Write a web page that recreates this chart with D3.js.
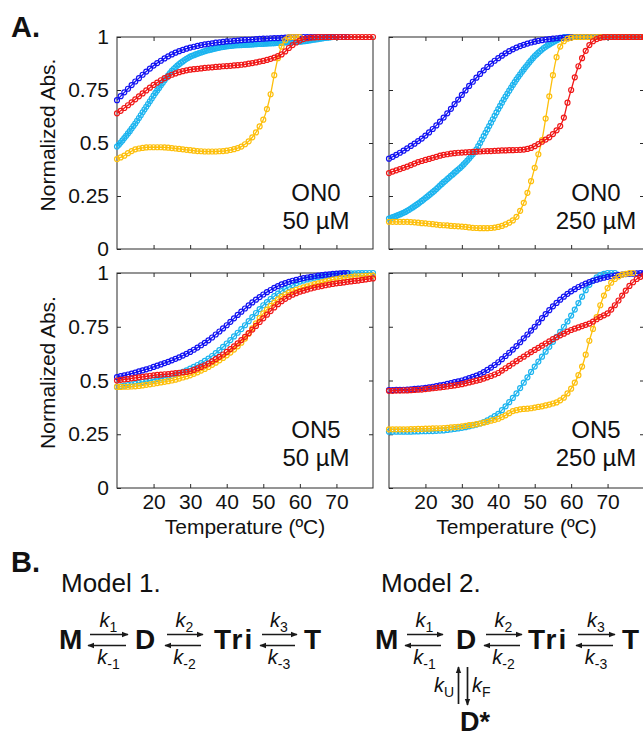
<!DOCTYPE html>
<html><head><meta charset="utf-8">
<script src="https://cdn.jsdelivr.net/npm/d3@7"></script>
<style>
body{margin:0;background:#fff}
svg{display:block}
text{font-family:"Liberation Sans",Arial,sans-serif;fill:#111}
</style>
</head><body>
<svg id="c" width="643" height="738"></svg>
<script>
// ---------------- DATA ----------------
const tempStart = 10;          // first temperature (°C)
const xTicks = [20, 30, 40, 50, 60, 70];
const yTicks = [0, 0.25, 0.5, 0.75, 1];
const yTickLabels = ["0", "0.25", "0.5", "0.75", "1"];
const seriesColors = ["#1cb4ef", "#1212f2", "#fdbf0c", "#f01818"]; // light blue, blue, orange, red

const panelNames = ["ON0", "ON0", "ON5", "ON5"];
const panelConcs = ["50 µM", "250 µM", "50 µM", "250 µM"];
// temperature step (°C) of each series, per panel
const seriesSteps = [[0.5, 1, 1, 1], [0.5, 1, 1, 1], [1, 1, 1, 1], [1, 1, 1, 1]];

// ON0 50 µM
const on0_50_light = [.483,.492,.502,.512,.523,.534,.545,.556,.568,.580,.592,.605,.618,.631,.645,.658,.671,.684,.697,.710,.723,.736,.748,.760,.772,.784,.796,.808,.819,.830,.840,.849,.857,.865,.872,.879,.885,.891,.897,.902,.907,.911,.914,.918,.921,.924,.927,.930,.933,.936,.938,.940,.942,.944,.946,.948,.950,.952,.953,.955,.956,.957,.958,.959,.960,.961,.961,.962,.962,.963,.963,.964,.964,.965,.965,.966,.966,.967,.967,.968,.968,.969,.969,.970,.970,.971,.971,.972,.972,.973,.973,.974,.974,.975,.975,.976,.976,.977,.977,.978,.978,.979,.980,.981,.982,.984,.985,.987,.988,.989,.990,.992,.993,.995,.996,.997,.998,.999,1];
const on0_50_blue = [.702,.721,.739,.756,.773,.790,.806,.822,.837,.851,.865,.877,.888,.899,.909,.918,.926,.933,.939,.945,.950,.954,.958,.962,.965,.968,.970,.973,.975,.977,.979,.980,.982,.983,.985,.986,.987,.988,.990,.991,.992,.993,.994,.995,.995,.996,.997,.998,.999,.999,1,1,1,1,1,1,1,1,1,1,1,1,1,1];
const on0_50_orange = [.424,.432,.440,.452,.462,.470,.474,.477,.479,.480,.480,.480,.480,.479,.478,.476,.474,.472,.470,.468,.466,.464,.462,.461,.460,.460,.460,.460,.461,.462,.464,.467,.471,.476,.483,.494,.508,.527,.550,.578,.610,.660,.730,.820,.900,.955,.985,.998,1,1,1];
const on0_50_red = [.640,.652,.665,.678,.692,.706,.720,.734,.748,.761,.774,.785,.796,.806,.814,.822,.828,.834,.839,.843,.846,.848,.850,.852,.854,.856,.857,.859,.860,.862,.863,.864,.866,.867,.869,.871,.874,.877,.880,.884,.887,.892,.897,.903,.910,.918,.932,.948,.962,.974,.983,.990,.994,.997,.998,.999,1,1,1,1,1,1,1,1,1,1,1,1,1,1,1];

// ON0 250 µM
const on0_250_light = [.143,.146,.150,.153,.156,.160,.163,.167,.171,.175,.180,.185,.191,.196,.202,.208,.214,.220,.227,.233,.240,.247,.254,.261,.268,.275,.283,.291,.299,.307,.315,.322,.330,.337,.345,.352,.360,.367,.375,.382,.390,.399,.408,.417,.427,.437,.447,.458,.470,.485,.500,.516,.532,.548,.564,.580,.596,.612,.628,.644,.660,.675,.690,.705,.719,.733,.747,.761,.774,.787,.800,.812,.824,.836,.847,.858,.869,.880,.890,.900,.910,.918,.926,.934,.941,.948,.954,.960,.965,.970,.975,.980,.985,.989,.993,.996,.998,.999,1,1,1,1,1,1,1,1,1,1,1,1,1,1,1,1,1,1,1,1,1,1,1,1,1,1,1,1,1,1,1,1,1,1,1,1,1,1,1,1,1,1,1];
const on0_250_blue = [.426,.435,.444,.454,.464,.475,.486,.497,.509,.521,.535,.550,.566,.583,.601,.620,.640,.661,.683,.705,.727,.748,.769,.789,.808,.826,.843,.859,.874,.888,.900,.912,.923,.933,.942,.950,.957,.963,.969,.974,.978,.982,.985,.988,.990,.992,.994,.996,.997,.998,.999,1,1,1,1,1,1,1,1,1,1,1,1,1,1,1,1,1,1,1,1];
const on0_250_orange = [.128,.128,.128,.128,.128,.128,.127,.126,.124,.122,.121,.119,.117,.115,.113,.112,.111,.109,.108,.107,.106,.104,.102,.100,.099,.098,.098,.098,.099,.101,.104,.109,.116,.124,.135,.152,.180,.218,.265,.320,.383,.447,.514,.615,.720,.820,.905,.955,.980,.992,.997,1,1,1,1,1,1,1,1,1,1,1,1,1,1,1,1,1,1,1,1];
const on0_250_red = [.358,.365,.371,.377,.383,.389,.396,.403,.410,.415,.420,.425,.430,.435,.440,.444,.447,.450,.452,.454,.455,.456,.457,.458,.459,.460,.461,.462,.462,.463,.464,.465,.465,.466,.466,.467,.468,.469,.472,.477,.485,.495,.506,.516,.527,.542,.560,.580,.620,.690,.750,.810,.862,.900,.935,.962,.980,.990,.996,.999,1,1,1,1,1,1,1,1,1,1,1];

// ON5 50 µM
const on5_50_light = [.470,.473,.476,.479,.482,.485,.489,.493,.497,.500,.504,.507,.510,.514,.517,.521,.527,.533,.540,.547,.555,.563,.572,.581,.591,.602,.614,.627,.641,.656,.672,.688,.705,.722,.739,.757,.776,.795,.814,.832,.850,.865,.879,.892,.904,.916,.926,.935,.944,.952,.960,.965,.970,.974,.978,.981,.984,.987,.990,.992,.994,.995,.996,.997,.998,.998,.999,.999,1,1,1];
const on5_50_blue = [.516,.520,.524,.528,.532,.537,.542,.547,.552,.557,.563,.569,.575,.581,.587,.594,.601,.608,.616,.624,.633,.643,.653,.664,.675,.687,.700,.714,.728,.742,.757,.773,.789,.805,.820,.835,.849,.863,.876,.888,.900,.911,.921,.931,.939,.947,.953,.959,.964,.968,.972,.976,.979,.982,.985,.988,.990,.992,.994,.996,.997,.998,.999,1];
const on5_50_orange = [.470,.470,.471,.471,.472,.473,.475,.477,.480,.482,.485,.488,.491,.494,.497,.500,.504,.509,.514,.519,.524,.531,.538,.546,.554,.563,.573,.583,.594,.605,.617,.630,.644,.659,.676,.695,.718,.742,.766,.790,.812,.830,.847,.862,.877,.890,.900,.909,.916,.922,.928,.933,.938,.943,.948,.952,.956,.961,.965,.969,.972,.975,.977,.980,.982,.984,.985,.986,.987,.988,.988];
const on5_50_red = [.500,.503,.505,.507,.510,.512,.515,.517,.519,.522,.524,.526,.527,.529,.530,.532,.534,.536,.538,.540,.543,.549,.556,.563,.571,.579,.589,.599,.610,.621,.633,.646,.659,.673,.688,.703,.720,.737,.754,.772,.789,.806,.823,.840,.855,.869,.880,.890,.899,.906,.913,.918,.923,.928,.932,.936,.939,.943,.946,.949,.952,.954,.956,.959,.961,.963,.965,.968,.970,.973,.975];

// ON5 250 µM
const on5_250_light = [.262,.262,.262,.262,.262,.262,.262,.263,.263,.264,.264,.265,.265,.266,.267,.268,.270,.272,.275,.277,.280,.283,.287,.291,.295,.300,.307,.315,.324,.334,.345,.362,.380,.399,.419,.440,.465,.490,.515,.540,.565,.588,.611,.634,.657,.680,.703,.726,.750,.775,.802,.830,.860,.890,.920,.945,.965,.980,.990,.996,1,1,1];
const on5_250_blue = [.455,.455,.456,.456,.457,.458,.459,.461,.462,.464,.466,.468,.471,.474,.477,.480,.484,.488,.492,.496,.500,.505,.511,.517,.523,.530,.539,.549,.560,.572,.585,.599,.614,.629,.644,.660,.678,.696,.714,.732,.750,.770,.790,.809,.827,.845,.861,.876,.890,.903,.915,.925,.935,.943,.951,.958,.964,.969,.974,.978,.982,.985,.988,.991,.993,.995,.996,.997,.998,.999,1];
const on5_250_orange = [.273,.273,.273,.273,.273,.273,.274,.274,.275,.275,.276,.276,.277,.278,.278,.279,.280,.282,.283,.285,.287,.289,.292,.294,.297,.300,.304,.308,.313,.317,.322,.330,.338,.348,.358,.362,.366,.368,.369,.371,.374,.377,.380,.384,.388,.393,.398,.408,.420,.440,.462,.490,.525,.565,.620,.685,.740,.795,.850,.895,.930,.955,.972,.984,.992,.996,.999,1];
const on5_250_red = [.452,.452,.453,.453,.454,.454,.455,.456,.457,.458,.460,.462,.464,.466,.468,.470,.472,.475,.477,.480,.483,.487,.491,.495,.499,.503,.509,.515,.521,.528,.535,.546,.557,.568,.579,.590,.601,.611,.622,.632,.642,.652,.662,.672,.682,.692,.701,.710,.718,.727,.735,.741,.747,.753,.759,.765,.774,.785,.795,.803,.812,.830,.850,.872,.895,.918,.940,.957,.972,.982,.990];

const panelSeries = [
  [on0_50_light, on0_50_blue, on0_50_orange, on0_50_red],
  [on0_250_light, on0_250_blue, on0_250_orange, on0_250_red],
  [on5_50_light, on5_50_blue, on5_50_orange, on5_50_red],
  [on5_250_light, on5_250_blue, on5_250_orange, on5_250_red]
];

// ---------------- LAYOUT ----------------
const svg = d3.select("#c");
const colX = [[117, 373], [389, 644]];
const rowY = [[249, 37], [488, 273]];
const ink = "#1a1a1a";
const FONT = '"Liberation Sans",Arial,sans-serif';

panelSeries.forEach((series, pi) => {
  const col = pi % 2, row = Math.floor(pi / 2);
  const x = d3.scaleLinear().domain([10, 80]).range(colX[col]);
  const y = d3.scaleLinear().domain([0, 1]).range(rowY[row]);
  const g = svg.append("g");

  g.append("rect").attr("x", x(10)).attr("y", y(1))
    .attr("width", x(80) - x(10)).attr("height", y(0) - y(1))
    .attr("fill", "none").attr("stroke", "#2a2a2a").attr("stroke-width", 1);

  const styleAxis = sel => {
    sel.select(".domain").remove();
    sel.selectAll(".tick line").attr("stroke", "#2a2a2a");
    sel.selectAll("text").attr("font-size", 21).attr("font-family", FONT).attr("fill", ink);
  };

  g.append("g").attr("transform", `translate(${x(10)},0)`)
    .call(d3.axisLeft(y).tickValues(yTicks).tickSize(-4).tickSizeOuter(0).tickPadding(8)
      .tickFormat((d, i) => col === 0 ? yTickLabels[i] : ""))
    .call(styleAxis);
  g.append("g").attr("transform", `translate(${x(80)},0)`)
    .call(d3.axisRight(y).tickValues(yTicks.slice(1, 4)).tickSize(-4).tickSizeOuter(0).tickFormat(""))
    .call(styleAxis);
  g.append("g").attr("transform", `translate(0,${y(0)})`)
    .call(d3.axisBottom(x).tickValues(xTicks).tickSize(-4).tickSizeOuter(0).tickPadding(6)
      .tickFormat(d => row === 1 ? d : ""))
    .call(styleAxis);
  g.append("g").attr("transform", `translate(0,${y(1)})`)
    .call(d3.axisTop(x).tickValues(xTicks).tickSize(-4).tickSizeOuter(0).tickFormat(""))
    .call(styleAxis);

  const line = d3.line().x(d => x(d.t)).y(d => y(d.v)).curve(d3.curveMonotoneX);
  series.forEach((vals, si) => {
    const step = seriesSteps[pi][si];
    const pts = vals.map((v, i) => ({t: tempStart + i * step, v}));
    const c = seriesColors[si];
    g.append("g").selectAll("circle").data(pts).join("circle")
      .attr("cx", d => x(d.t)).attr("cy", d => y(d.v)).attr("r", 2.5)
      .attr("fill", "none").attr("stroke", c).attr("stroke-width", 1.2);
    g.append("path").datum(pts).attr("d", line)
      .attr("fill", "none").attr("stroke", c).attr("stroke-width", 1.3);
  });

  const cx = col === 0 ? 316 : 596;
  const b1 = row === 0 ? 201 : 438;
  g.append("text").attr("x", cx).attr("y", b1).attr("text-anchor", "middle").attr("font-size", 24).text(panelNames[pi]);
  g.append("text").attr("x", cx).attr("y", b1 + 28).attr("text-anchor", "middle").attr("font-size", 24).text(panelConcs[pi]);

  if (col === 0) {
    const cy = (y(0) + y(1)) / 2 - 8;
    g.append("text").attr("transform", `translate(55,${cy}) rotate(-90)`)
      .attr("text-anchor", "middle").attr("font-size", 21).text("Normalized Abs.");
  }
  if (row === 1) {
    g.append("text").attr("x", (x(10) + x(80)) / 2).attr("y", 534)
      .attr("text-anchor", "middle").attr("font-size", 21).text("Temperature (ºC)");
  }
});

svg.append("text").attr("x", 11).attr("y", 37).attr("font-size", 29).attr("font-weight", "bold").text("A.");
svg.append("text").attr("x", 11).attr("y", 572).attr("font-size", 29).attr("font-weight", "bold").text("B.");

// ---------------- SCHEMES ----------------
const defs = svg.append("defs");
defs.append("marker").attr("id", "ah").attr("viewBox", "0 0 10 10").attr("refX", 9).attr("refY", 5)
  .attr("markerWidth", 7).attr("markerHeight", 7).attr("orient", "auto-start-reverse").attr("markerUnits", "userSpaceOnUse")
  .append("path").attr("d", "M0,1 L10,5 L0,9 Z").attr("fill", ink);

function species(xp, yb, label, ls, fs) {
  svg.append("text").attr("x", xp).attr("y", yb).attr("font-size", fs || 28).attr("font-weight", "bold")
    .attr("letter-spacing", ls || 0).text(label);
}
function kLabel(xc, yb, sub, anchor) {
  const t = svg.append("text").attr("x", xc).attr("y", yb).attr("text-anchor", anchor || "middle").attr("font-size", 20);
  t.append("tspan").attr("font-style", "italic").text("k");
  t.append("tspan").attr("font-size", 14).attr("dy", 5).text(sub);
}
function arrow(x1, y1, x2, y2) {
  svg.append("line").attr("x1", x1).attr("y1", y1).attr("x2", x2).attr("y2", y2)
    .attr("stroke", ink).attr("stroke-width", 1.7).attr("marker-end", "url(#ah)");
}
function pair(xa, xb, kTop, kBot) {
  arrow(xa + 2, 634.5, xb + 1, 634.5);
  arrow(xb - 1, 645.5, xa, 645.5);
  kLabel((xa + xb) / 2 + 1, 627, kTop);
  kLabel((xa + xb) / 2 + 1, 664, kBot);
}

svg.append("text").attr("x", 61).attr("y", 592).attr("font-size", 26).text("Model 1.");
species(59, 649, "M");
pair(88, 127, "1", "-1");
species(135, 649, "D");
pair(165, 202, "2", "-2");
species(214, 649, "Tri", 2);
pair(260, 296, "3", "-3");
species(304, 649, "T");

svg.append("text").attr("x", 381).attr("y", 592).attr("font-size", 26).text("Model 2.");
species(375, 649, "M");
pair(405, 442, "1", "-1");
species(456, 649, "D");
pair(484, 521, "2", "-2");
species(528, 649, "Tri", 2);
pair(576, 614, "3", "-3");
species(622, 649, "T");
arrow(458.5, 704, 458.5, 667);
arrow(467.5, 667, 467.5, 705);
kLabel(454, 692, "U", "end");
kLabel(472, 692, "F", "start");
species(460, 731, "D*", 0, 27);
</script>
</body></html>
